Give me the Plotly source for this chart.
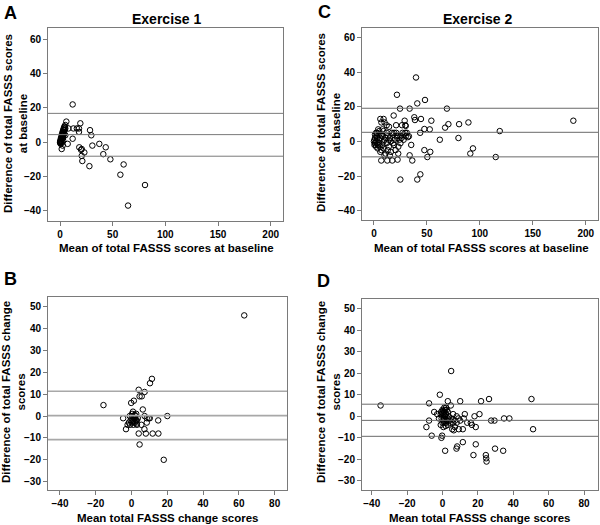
import plotly.graph_objects as go

# ---------------- data ----------------
ex1_base_mean = [12, 6, 19.3, 28.5, 29.7, 8, 12.7, 16, 18, 18, 12, 7.3, 18.3, 20.6, 23.1, 20.6, 21.2, 27.9,
                 30.7, 37.3, 43.4, 41.1, 47.8, 60.4, 57.3, 80.7, 64.6, 1.6, 2.5, 20, 5,
                 0, 0.3, 0.5, 0.8, 1, 1, 1.3, 1.5, 1.8, 2, 2, 2.3, 2.5, 2.8, 3, 3, 3.3, 3.5, 3.8, 4, 4, 4.3,
                 4.6, 5, 0.2, 0.6, 1.2, 3, 5, 4.5, 3.5, 2.2, 1.5, 0.4, 2.8, 1.6]
ex1_base_diff = [22, 12, 11, 7, 4, 8, 8, 8, 8, 6, 2, -1, -3, -4, -6, -8, -11, -14,
                 -2, -1, -3, -7, -10, -13, -19, -25, -37, -4, -2, -4.5, 4,
                 0, 0.5, 1.5, 1, 2.5, 0.5, 3, 2, 4, 3, 5, 4, 6, 5, 7, 3.5, 6, 8, 7, 9, 5, 8,
                 9, 10, -0.5, -1, 0, 1, 8, 7, 4.5, 2, 1, 0, 2.5, -0.5]
ex1_base_loa = [16.8, 4.4, -8.2]

ex2_base_mean = [39.7, 21.7, 40.9, 48.2, 24.6, 33.7, 68.9, 18.6, 38.1, 38.7, 44.4, 29, 54.2, 26.5, 29.6, 20.9,
                 47.6, 52.7, 67.2, 70.3, 80.4, 89.2, 188.3, 118.8, 79.8, 62.2, 43.6, 6, 9.1, 12, 14.2,
                 35.2, 33.7, 36.2, 47.6, 53.2, 50.4, 24.9, 40.9, 43.8, 91, 93.5, 115, 6.9, 12.6, 17.3, 22.3,
                 22.9, 20.4, 28, 30, 31, 32, 29.5, 33,
                 26, 24, 22, 25, 23, 20, 19, 18, 17, 21, 16, 14, 13, 15, 11, 10, 9, 8, 7, 6, 5, 4, 5, 3, 3,
                 2, 1, 0, 0.5, 1, 1.5, 2, 2.5, 3, 4, 4.5, 6, 7, 8, 9, 10, 11, 12, 13, 14, 7, 10, 5, 8, 0.5,
                 1, 2, 3.5, 6, 9, 12, 15, 16, 18, 25, 27, 30, 28, 19, 22]
ex2_base_diff = [37, 27, 22, 24, 19, 19, 19, 15, 14, 12.4, 13, 12, 12, 9.4, 9.4, 9.4,
                 7.2, 7, 8, 10, 10, 11, 12, 6, 2, 1, 5, 13, 13, 9.4, 8.5,
                 -2, -8, -11, -5, -6, -9, -22, -22, -19, -7, -4, -9, -11, -11, -11, -10.5,
                 -7, -5, 4, 3, 5, 2.5, 5, 3,
                 2, 1, 3, -1, -3, 1, -2, 4, 5, 5, -6, -3, -5, -8, -7, -8, -4, -2, -5, -6, 4, 7, -1, 5, 2,
                 0, -1, 0, 1, 2, -2, -3, 3, -1, -2, 1, 2, 4, 3, 6, 1, 2, -1, 3, 1, 11, 11, 6, 7, -2,
                 4, 5, -4, -3, 0, 5, 2, 0, -1, 3, 5, 9, 1, 5, 2]
ex2_base_loa = [19.2, 5.3, -8.9]

ex1_chg_mean = [63, -15.7, 11.4, 10.3, 4, 7.3, 4.5, 5.7, 1.3, -0.2, 6.3, 0.8, 2.6, 20, 14.9, 7.3, 8.5, 9.6,
                10.2, -4.7, -3.1, 4, 8, 11.8, 15, 4.5, 18, 7.2, 8.5, 5.5, -2.2,
                -1, 0, 0.5, 1, 1.5, 2, 2.5, 3, 0, -0.5, 1, 2, 3, 1.8, 0.3, -1.5, 2.8, 0.8, 1.2, -0.8, 3.5, 2.2]
ex1_chg_diff = [46, 5, 17, 15, 12, 11, 9, 9, 7, 6, 3, 2, 1, 0, -2, 0, -1, -1,
                -1, -1, -6, -8, -8, -8, -8, -13, -20, -6, -3, -4, -4,
                0, -1, 0, -2, -1, -3, -2, -4, -3, -2, -4, -1, -2, 0.5, 1, -3, -3.5, -2.5, -3, -4, -1, 0]
ex1_chg_loa = [11.3, 0.2, -10.8]

ex2_chg_mean = [4.9, -1.5, -7.6, -35, 3, 10, 21.8, 26.3, 50.3, 51.2, -4.7, -7.6, -9.1, -6.1, -0.2, -0.6,
                1.5, 7.9, 8.3, 11.5, 18.8, 17.5, 24.5, 24.7, 24.9, 29.7, 34.3, 27.5, 29.4, 34.8, 37.8,
                20.9, 18.1, 12.6, 18.8, 16, 16.6, 14, 11.5, 9.2, 10, 12, 9, 6, 7, 5.5, 6.4, 4.7, 3, 2,
                -2, -3, -1, 0.5,
                0, 0.5, 1, 1.5, 0, -0.5, 0.5, 1, 1.5, 2, 2.5, 3, 3.5, 4, 0, 1, 2, -1, 0.3, 1.2, 2.5, 0.8,
                4.5, 5, 6, 7, 8, 1, 0, -0.8, 3, 1.8, 6, 8]
ex2_chg_diff = [21, 10, 6, 5, 7, 7, 7, 8, 8, -6, 2, -2, -5, -9, -9, -10,
                -16, -15, -14, -12, -13, -18, -18, -19.5, -21, -15, -16, -2, -2, -1, -1,
                1, 0, 1, -5, -3, -4, -3, -6, -6, -2, -1, -1, -3, -5, -6, -6.5, 5, 2, 4,
                -1, 1, -4, -5,
                0, 1, 2, 3, 3, -1, -2, -1, 0, 1, -2, -1, 0, -2, -3, -3, -3, 1, 2.5, 0.5, 3, -1.5,
                -3, -1, -1.5, -2, 0, 4, 1.5, 2, -4, -4.5, 1, -3]
ex2_chg_loa = [5.6, -1.9, -9.3]

base_xticks = [0, 50, 100, 150, 200]
base_yticks = [-40, -20, 0, 20, 40, 60]
chg_xticks = [-40, -20, 0, 20, 40, 60, 80]
chg_yticks = [-30, -20, -10, 0, 10, 20, 30, 40, 50]

# ---------------- layout helpers ----------------
W, H = 600, 525
FONT = "Liberation Sans, Arial, sans-serif"
FRAME = "#7a7a7a"


def fx(p):
    return p / W


def fy(p):
    return 1 - p / H


panels = [
    (ex1_base_mean, ex1_base_diff, ex1_base_loa, (48, 283), (28, 221), [-11.4, 211.7], [-46, 66.6],
     base_xticks, base_yticks, "#7a7a7a", 1),
    (ex2_base_mean, ex2_base_diff, ex2_base_loa, (362, 598), (28, 220), [-11.3, 211.6], [-45.4, 65.6],
     base_xticks, base_yticks, "#6a6a6a", 1),
    (ex1_chg_mean, ex1_chg_diff, ex1_chg_loa, (48, 287), (297, 490), [-46.7, 86.9], [-33.8, 54.4],
     chg_xticks, chg_yticks, "#a8a8a8", 1.6),
    (ex2_chg_mean, ex2_chg_diff, ex2_chg_loa, (362, 598), (299, 490), [-45.5, 87.9], [-34.2, 54.4],
     chg_xticks, chg_yticks, "#6a6a6a", 1),
]

fig = go.Figure()
layout = dict(width=W, height=H, margin=dict(l=0, r=0, t=0, b=0),
              paper_bgcolor="white", plot_bgcolor="white", showlegend=False,
              font=dict(family=FONT, color="black"))
shapes = []
for i, (xs, ys, loa, xd, yd, xr, yr, xt, yt, lc, lw) in enumerate(panels, start=1):
    xa = "x" if i == 1 else f"x{i}"
    ya = "y" if i == 1 else f"y{i}"
    fig.add_trace(go.Scatter(x=xs, y=ys, mode="markers", xaxis=xa, yaxis=ya,
                             marker=dict(symbol="circle-open", size=5.5, color="black",
                                         line=dict(width=1, color="black"))))
    common = dict(showline=True, mirror=True, linecolor=FRAME, linewidth=1, ticks="outside",
                  ticklen=4, tickcolor=FRAME, showgrid=False, zeroline=False,
                  tickfont=dict(family=FONT, size=10, color="black", weight="bold"))
    layout["xaxis" if i == 1 else f"xaxis{i}"] = dict(
        domain=[fx(xd[0]), fx(xd[1])], range=xr, tickvals=xt, anchor=ya, **common)
    layout["yaxis" if i == 1 else f"yaxis{i}"] = dict(
        domain=[fy(yd[1]), fy(yd[0])], range=yr, tickvals=yt, anchor=xa, **common)
    for v in loa:
        shapes.append(dict(type="line", xref=f"{xa} domain", x0=0, x1=1, yref=ya, y0=v, y1=v,
                           line=dict(color=lc, width=lw), layer="above"))
layout["shapes"] = shapes


def ann(text, x, y, size, angle=0):
    return dict(text=text, x=fx(x), y=fy(y), xref="paper", yref="paper", showarrow=False,
                xanchor="center", yanchor="middle", textangle=angle,
                font=dict(family=FONT, size=size, color="black", weight="bold"))


annotations = [
    ann("A", 10, 13, 18), ann("C", 324, 12, 18), ann("B", 10, 279, 18), ann("D", 323, 281, 18),
    ann("Exercise 1", 166, 19, 14), ann("Exercise 2", 477, 19, 14),
    ann("Mean of total FASSS scores at baseline", 166, 248, 11.5),
    ann("Mean of total FASSS scores at baseline", 481, 248, 11.5),
    ann("Mean total FASSS change scores", 168, 518, 11.5),
    ann("Mean total FASSS change scores", 480, 518, 11.5),
    ann("Difference of total FASSS scores<br>at baseline", 16, 124, 11.5, -90),
    ann("Difference of total FASSS scores<br>at baseline", 328, 123, 11.5, -90),
    ann("Difference of total FASSS change<br>scores", 13, 392, 11.5, -90),
    ann("Difference of total FASSS change<br>scores", 328, 392, 11.5, -90),
]
layout["annotations"] = annotations
fig.update_layout(**layout)
fig.write_html("out.html", config={"displayModeBar": False},
               post_script="document.body.style.margin='0';document.body.style.overflow='hidden';")
